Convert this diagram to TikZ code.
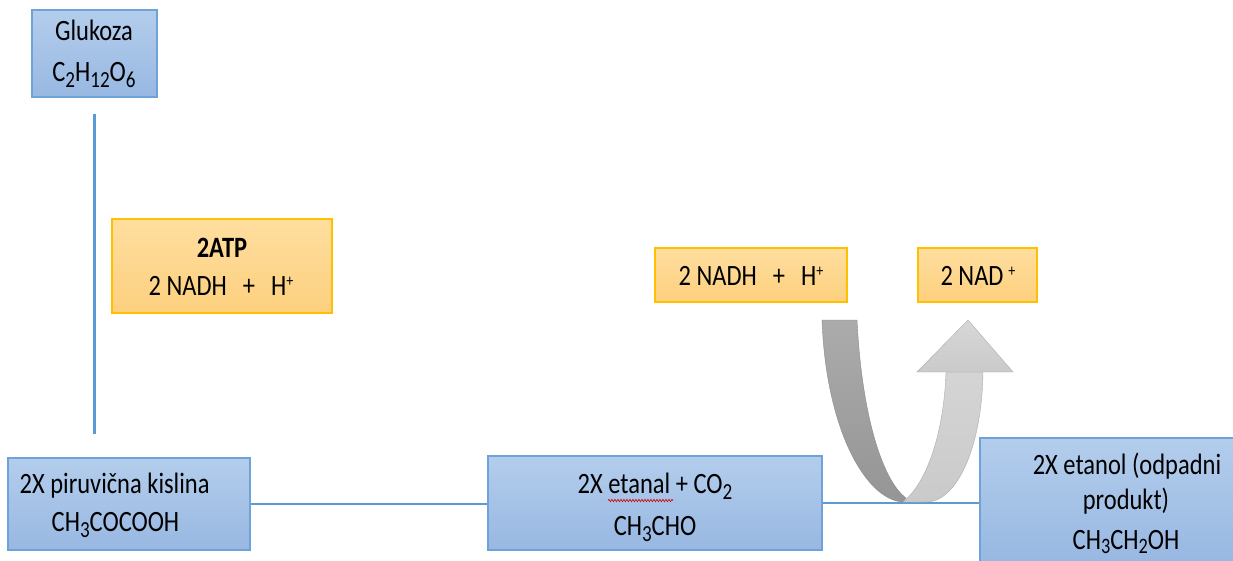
\documentclass[tikz,border=0pt]{standalone}
\usepackage{fontspec}
\setmainfont{Carlito}[FakeStretch=0.83]
\usetikzlibrary{calc,decorations.pathmorphing}

\definecolor{bluetop}{HTML}{B3CDEC}
\definecolor{bluebot}{HTML}{98B8E2}
\definecolor{blueedge}{HTML}{6FA2D8}
\definecolor{linkblue}{HTML}{5B9BD5}
\definecolor{goldtop}{HTML}{FEDE9F}
\definecolor{goldbot}{HTML}{FDD07E}
\definecolor{goldedge}{HTML}{FFC000}
\definecolor{darkband}{HTML}{A2A2A2}
\definecolor{lightband}{HTML}{CACACA}

% chemical sub- and superscripts
\newcommand\chemsub[1]{\raisebox{-6pt}{\fontsize{23}{23}\selectfont #1}}
\newcommand\chemsubtight[1]{\raisebox{-4.5pt}{\fontsize{22}{22}\selectfont #1}}
\newcommand\chemsup[1]{\raisebox{9pt}{\fontsize{17}{17}\selectfont #1}}

\begin{document}
\begin{tikzpicture}[x=1pt,y=-1pt,
  bluebox/.style={rectangle, draw=blueedge, line width=1.4pt,
    top color=bluetop, bottom color=bluebot, inner sep=0pt},
  goldbox/.style={rectangle, draw=goldedge, line width=1.4pt,
    top color=goldtop, bottom color=goldbot, inner sep=0pt},
  txt/.style={inner sep=0pt, anchor=base, font=\fontsize{29.5}{34}\selectfont},
  link/.style={draw=linkblue, line width=2.5pt}]

\clip (0,0) rectangle (1233,560);

% ---- boxes ----
\node[bluebox, minimum width=125pt, minimum height=87pt]  (gluk)   at (94.5,53.5) {};
\node[goldbox, minimum width=220pt, minimum height=94pt]  (yield)  at (222,266)   {};
\node[goldbox, minimum width=192pt, minimum height=54pt]  (nadh)   at (751,275)   {};
\node[goldbox, minimum width=119pt, minimum height=54pt]  (nad)    at (977.5,275) {};
\node[bluebox, minimum width=242pt, minimum height=92pt]  (piruv)  at (129,504)   {};
\node[bluebox, minimum width=334pt, minimum height=94pt]  (etanal) at (655,503)   {};
\node[bluebox, minimum width=310pt, minimum height=124pt] (etanol) at (1135,500)  {};

% ---- labels, one node per line, placed on their baselines ----
\node[txt] (gluk-a) at (94,40) {Glukoza};
\node[txt] (gluk-b) at (94,81) {C\chemsub{2}H\chemsub{12}O\chemsub{6}};

\node[txt] (yield-a) at (222,257) {\textbf{2ATP}};
\node[txt] (yield-b) at (221,295) {2 NADH\hspace{16pt}+\hspace{16pt}H\chemsup{+}};

\node[txt] (nadh-a) at (751,285.5) {2 NADH\hspace{16pt}+\hspace{16pt}H\chemsup{+}};
\node[txt] (nad-a)  at (978,285.5) {2 NAD\,\chemsup{+}};

\node[txt, anchor=base west] (piruv-a) at (19.5,493) {2X piruvična kislina};
\node[txt, anchor=base west] (piruv-b) at (51.5,531) {CH\chemsub{3}COCOOH};

\node[txt] (etanal-a) at (655,493) {2X etanal + CO\chemsub{2}};
\node[txt] (etanal-b) at (655,535) {CH\chemsub{3}CHO};

\node[txt] (etanol-a) at (1127,474) {2X etanol (odpadni};
\node[txt] (etanol-b) at (1126,509) {produkt)};
\node[txt] (etanol-c) at (1126,549) {CH\chemsubtight{3}CH\chemsubtight{2}OH};

% ---- connectors ----
\draw[link] ($(gluk.south)+(0,16)$) -- ($(gluk.south |- piruv.north)+(0,-23)$);
\draw[link] (piruv.east) -- (piruv.east -| etanal.west);
\draw[link] (etanal.east) -- (etanal.east -| etanol.west);

% spelling mark under "etanal"
\draw[red!80!black, line width=0.6pt,
  decorate, decoration={snake, amplitude=1.2pt, segment length=3pt}]
  (608,500.5) -- (673,500.5);

% ---- NADH is oxidised to NAD+ : U-turn arrow ----
\path[top color=darkband!90!white, bottom color=darkband!92!black,
      draw=darkband!85!black, line width=0.4pt]
  (822,320) -- (857,320)
  .. controls (862,420) and (884,482) .. (906,498)
  -- (903,502)
  .. controls (866,500) and (826,430) .. (822,320) -- cycle;
\path[top color=lightband!80!white, bottom color=lightband,
      draw=lightband!85!black, line width=0.4pt]
  (946,372) -- (983,372)
  .. controls (982,445) and (958,502) .. (926,502)
  -- (903,502)
  .. controls (928,482) and (944,430) .. (946,372) -- cycle;
\path[top color=lightband!75!white, bottom color=lightband,
      draw=lightband!85!black, line width=0.4pt]
  (917,372) -- (968,320) -- (1013,372) -- cycle;

\end{tikzpicture}
\end{document}
